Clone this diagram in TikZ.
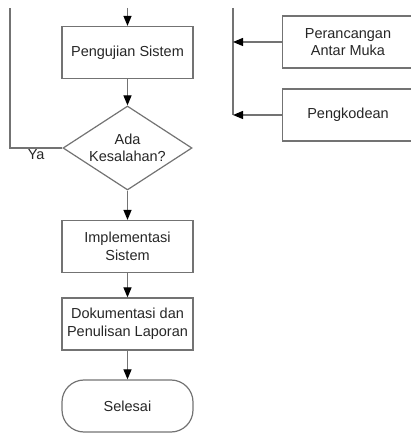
\documentclass[tikz,border=0pt]{standalone}
\usepackage{fontspec}
\setmainfont{Liberation Sans}
\usetikzlibrary{shapes.geometric,arrows.meta}
\begin{document}
\begin{tikzpicture}[x=1pt,y=1pt,
  font=\fontsize{14.5}{17.5}\selectfont,
  line/.style={draw=black!55,line width=1.2pt},
  flow/.style={line,-{Triangle[length=10pt,width=8pt,black]}},
  box/.style={line,rectangle,minimum width=131pt,minimum height=52pt,align=center,text=black!85},
  decision/.style={line,diamond,aspect=1.54,inner sep=0pt,minimum width=129pt,minimum height=84pt,align=center,text=black!85},
  terminal/.style={line,rectangle,rounded corners=22pt,minimum width=131pt,minimum height=52pt,text=black!85}]
 \useasboundingbox (0,0) rectangle (411,434);
 % main column
 \node[box] (uji) at (127.5,381.5) {Pengujian Sistem};
 \node[decision] (dec) at (127.5,286) {Ada\\Kesalahan?};
 \node[box] (impl) at (127.5,187.5) {Implementasi\\Sistem};
 \node[box] (dok) at (127.5,110) {Dokumentasi dan\\Penulisan Laporan};
 \node[terminal] (end) at (127.5,28) {Selesai};
 % right column
 \node[box] (rancang) at (348,392) {Perancangan\\Antar Muka};
 \node[box] (kode) at (348,319) {Pengkodean};
 \coordinate (inTop) at (127.5,426);
 \coordinate (loopTop) at (10,426);
 \coordinate (mergeTop) at (233,426);
 \draw[flow] (inTop) -- (uji);
 \draw[flow] (uji) -- (dec);
 \draw[flow] (dec) -- (impl);
 \draw[flow] (impl) -- (dok);
 \draw[flow] (dok) -- (end);
 \draw[line] (dec.west) -- node[below,inner sep=1pt,text=black!85] {Ya} (dec.west -| loopTop) -- (loopTop);
 \draw[line] (mergeTop) -- (mergeTop |- kode.west);
 \draw[flow] (rancang.west) -- (rancang.west -| mergeTop);
 \draw[flow] (kode.west) -- (kode.west -| mergeTop);
\end{tikzpicture}
\end{document}
